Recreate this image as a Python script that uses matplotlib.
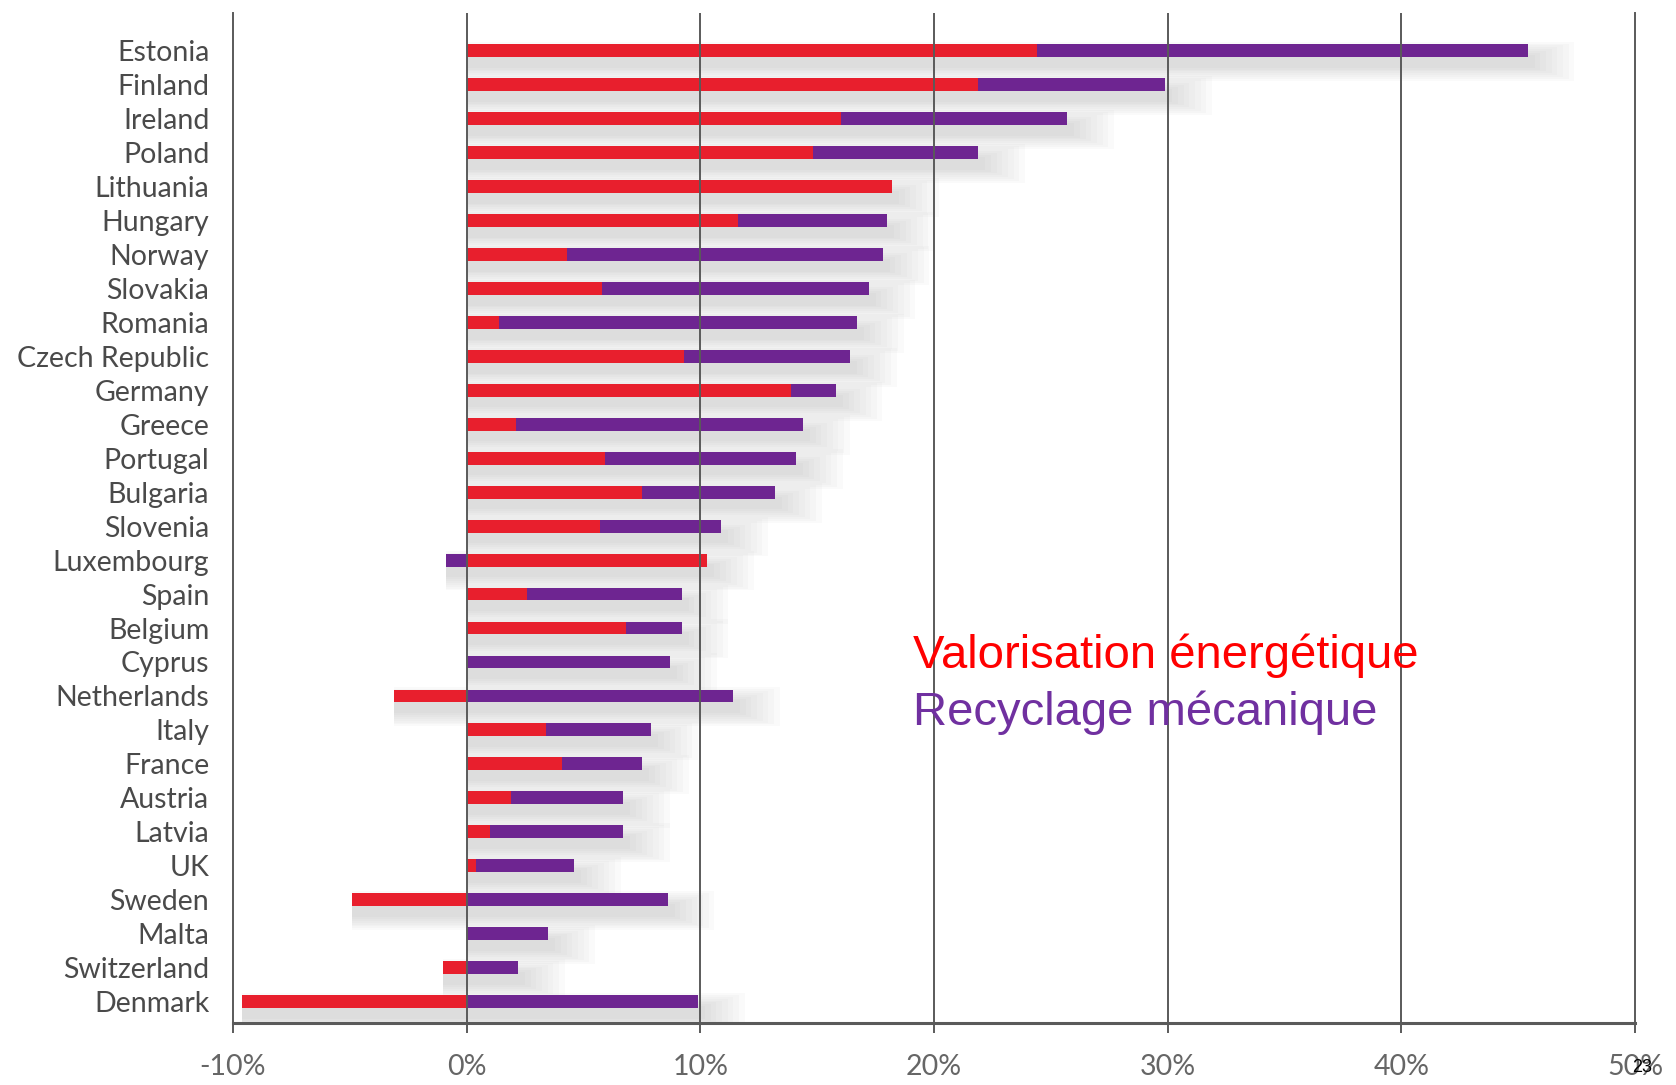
"""Evolution of plastics recovery by country: energy recovery vs mechanical recycling."""

import matplotlib

matplotlib.use("Agg")
import matplotlib.pyplot as plt
import numpy as np

COUNTRIES = [
    "Estonia", "Finland", "Ireland", "Poland", "Lithuania", "Hungary", "Norway",
    "Slovakia", "Romania", "Czech Republic", "Germany", "Greece", "Portugal",
    "Bulgaria", "Slovenia", "Luxembourg", "Spain", "Belgium", "Cyprus",
    "Netherlands", "Italy", "France", "Austria", "Latvia", "UK", "Sweden",
    "Malta", "Switzerland", "Denmark",
]
# percentage points
ENERGY = [24.4, 21.9, 16.0, 14.8, 18.2, 11.6, 4.3, 5.8, 1.4, 9.3, 13.9, 2.1, 5.9,
          7.5, 5.7, 10.3, 2.6, 6.8, 0.0, -3.1, 3.4, 4.1, 1.9, 1.0, 0.4, -4.9,
          0.0, -1.0, -9.6]
RECYCLING = [21.0, 8.0, 9.7, 7.1, 0.0, 6.4, 13.5, 11.4, 15.3, 7.1, 1.9, 12.3, 8.2,
             5.7, 5.2, -0.9, 6.6, 2.4, 8.7, 11.4, 4.5, 3.4, 4.8, 5.7, 4.2, 8.6,
             3.5, 2.2, 9.9]
XTICKS = [-10, 0, 10, 20, 30, 40, 50]

RED = "#e81f2d"
PURPLE = "#6e2591"
LINE = "#5a5a5a"
LABEL = "#4a4a4a"


def main() -> None:
    fig = plt.figure(figsize=(16.76, 10.85), dpi=100, facecolor="white")
    ax = fig.add_axes([0.139, 0.057, 0.8366, 0.931])

    energy = np.array(ENERGY)
    recycling = np.array(RECYCLING)
    y = np.arange(len(COUNTRIES))
    height = 0.38

    # stacking: positive parts go right from zero, negative parts go left
    rec_left = np.where(recycling >= 0, np.maximum(energy, 0), np.minimum(energy, 0))
    lo = np.minimum.reduce([np.zeros_like(energy), energy, rec_left + recycling])
    hi = np.maximum.reduce([np.zeros_like(energy), energy, rec_left + recycling])

    # soft drop shadow under each bar
    for k in range(8):
        spread = 0.11 * k
        ax.barh(y + 0.32, hi - lo + 0.3 + spread * 2.2, left=lo, height=height + spread,
                color="#9a9a9a", alpha=0.045, linewidth=0, zorder=1)

    ax.barh(y, energy, left=0, height=height, color=RED, linewidth=0, zorder=3)
    ax.barh(y, recycling, left=rec_left, height=height, color=PURPLE, linewidth=0, zorder=3)

    for x in XTICKS[1:-1]:
        ax.axvline(x, color=LINE, linewidth=1.4, zorder=4)

    ax.set_xlim(-10, 50)
    ax.set_ylim(len(COUNTRIES) - 1 + 0.63, -1.1)
    ax.set_yticks(y, COUNTRIES)
    ax.set_xticks(XTICKS, [f"{v}%" for v in XTICKS])
    ax.tick_params(axis="y", length=0, pad=17, labelsize=20.5, labelcolor=LABEL)
    ax.tick_params(axis="x", length=7, width=1.4, color=LINE, direction="out",
                   pad=15, labelsize=20.5, labelcolor="#666666")
    for lab in ax.get_yticklabels() + ax.get_xticklabels():
        lab.set_family("Lato")

    ax.spines["top"].set_visible(False)
    for side in ("left", "right"):
        ax.spines[side].set_color(LINE)
        ax.spines[side].set_linewidth(1.4)
    ax.spines["bottom"].set_color(LINE)
    ax.spines["bottom"].set_linewidth(2.2)

    fig.text(0.545, 0.396, "Valorisation énergétique", color="#ff0000", fontsize=34,
             family="Liberation Sans", va="center", ha="left")
    fig.text(0.545, 0.343, "Recyclage mécanique", color="#7030a0", fontsize=34,
             family="Liberation Sans", va="center", ha="left")
    # page number sits on top of the last tick label, as in the slide
    fig.text(0.980, 0.016, "23", color="black", fontsize=13, family="Liberation Sans",
             ha="center", va="center")

    fig.savefig("out.png", dpi=100, facecolor="white")


if __name__ == "__main__":
    main()
